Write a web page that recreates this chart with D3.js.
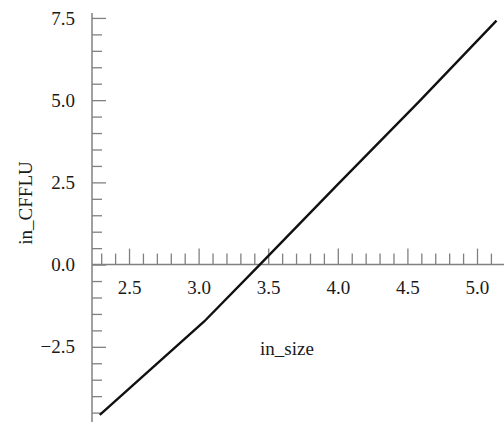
<!DOCTYPE html>
<html>
<head>
<meta charset="utf-8">
<script src="https://cdn.jsdelivr.net/npm/d3@7"></script>
<style>
  body { margin: 0; background: #fff; }
  svg text { font-family: "Times New Roman", "Liberation Serif", "DejaVu Serif", serif; fill: #1a1a1a; }
</style>
</head>
<body>
<svg id="chart" width="504" height="422"></svg>
<script>
// curve
const sizeVals  = [2.29, 3.04, 3.44, 4.0, 4.58, 5.14];
const cfflu     = [-4.57, -1.73, 0.0, 2.44, 4.94, 7.42];
const xMajor    = [2.5, 3.0, 3.5, 4.0, 4.5, 5.0];
const xLabels   = ["2.5", "3.0", "3.5", "4.0", "4.5", "5.0"];
const yMajor    = [-2.5, 0, 2.5, 5.0, 7.5];
const yLabels   = ["\u22122.5", "0.0", "2.5", "5.0", "7.5"];

let w = 504, h = 422;
let svg = d3.select("#chart");

let x = d3.scaleLinear().domain([2.234, 5.194]).range([92, 504]);
let y = d3.scaleLinear().domain([-4.786, 7.65]).range([422, 13]);

const axisCol = "#808080";
const serif = "'Times New Roman', 'Liberation Serif', 'DejaVu Serif', serif";

// minor ticks every 0.1 / 0.5
let xMinor = d3.range(2.3, 5.15, 0.1).map(v => +v.toFixed(1)).filter(v => !xMajor.includes(v));
let yMinor = d3.range(-4.5, 7.6, 0.5).filter(v => !yMajor.includes(v));

// x axis (ticks point up, labels below)
let gx = svg.append("g").attr("transform", `translate(0,${y(0)})`);
gx.append("g")
    .call(d3.axisTop(x).tickValues(xMinor).tickSize(11).tickFormat(""))
    .call(g => g.select(".domain").remove());
gx.append("g")
    .call(d3.axisTop(x).tickValues(xMajor).tickSize(16).tickFormat((d, i) => xLabels[i]))
    .call(g => g.select(".domain").remove())
    .call(g => g.selectAll("text").attr("y", 29).attr("dy", 0));

// y axis (ticks point right, labels left)
let gy = svg.append("g").attr("transform", `translate(${x.range()[0]},0)`);
gy.append("g")
    .call(d3.axisRight(y).tickValues(yMinor).tickSize(10).tickFormat(""))
    .call(g => g.select(".domain").remove());
gy.append("g")
    .call(d3.axisRight(y).tickValues(yMajor).tickSize(14).tickFormat((d, i) => yLabels[i]))
    .call(g => g.select(".domain").remove())
    .call(g => g.selectAll("text").attr("x", -17).attr("text-anchor", "end"));

svg.selectAll("g").attr("font-family", serif);
svg.selectAll(".tick line").attr("stroke", axisCol).attr("stroke-width", 1.3);
svg.selectAll(".tick text").attr("font-size", 19).attr("fill", "#1a1a1a");

// axis lines
svg.append("line")
    .attr("x1", x.range()[0]).attr("x2", w)
    .attr("y1", y(0)).attr("y2", y(0))
    .attr("stroke", axisCol).attr("stroke-width", 1.5);
svg.append("line")
    .attr("x1", x.range()[0]).attr("x2", x.range()[0])
    .attr("y1", 13).attr("y2", h)
    .attr("stroke", axisCol).attr("stroke-width", 1.5);

// curve
let pts = sizeVals.map((v, i) => [v, cfflu[i]]);
svg.append("path")
    .datum(pts)
    .attr("fill", "none")
    .attr("stroke", "#111")
    .attr("stroke-width", 2.4)
    .attr("d", d3.line().x(d => x(d[0])).y(d => y(d[1])));

// axis titles
svg.append("text")
    .attr("x", 260).attr("y", 355)
    .attr("font-size", 19)
    .attr("font-family", serif)
    .text("in_size");
svg.append("text")
    .attr("transform", "translate(32,203) rotate(-90)")
    .attr("text-anchor", "middle")
    .attr("font-size", 19)
    .attr("font-family", serif)
    .text("in_CFFLU");
</script>
</body>
</html>
